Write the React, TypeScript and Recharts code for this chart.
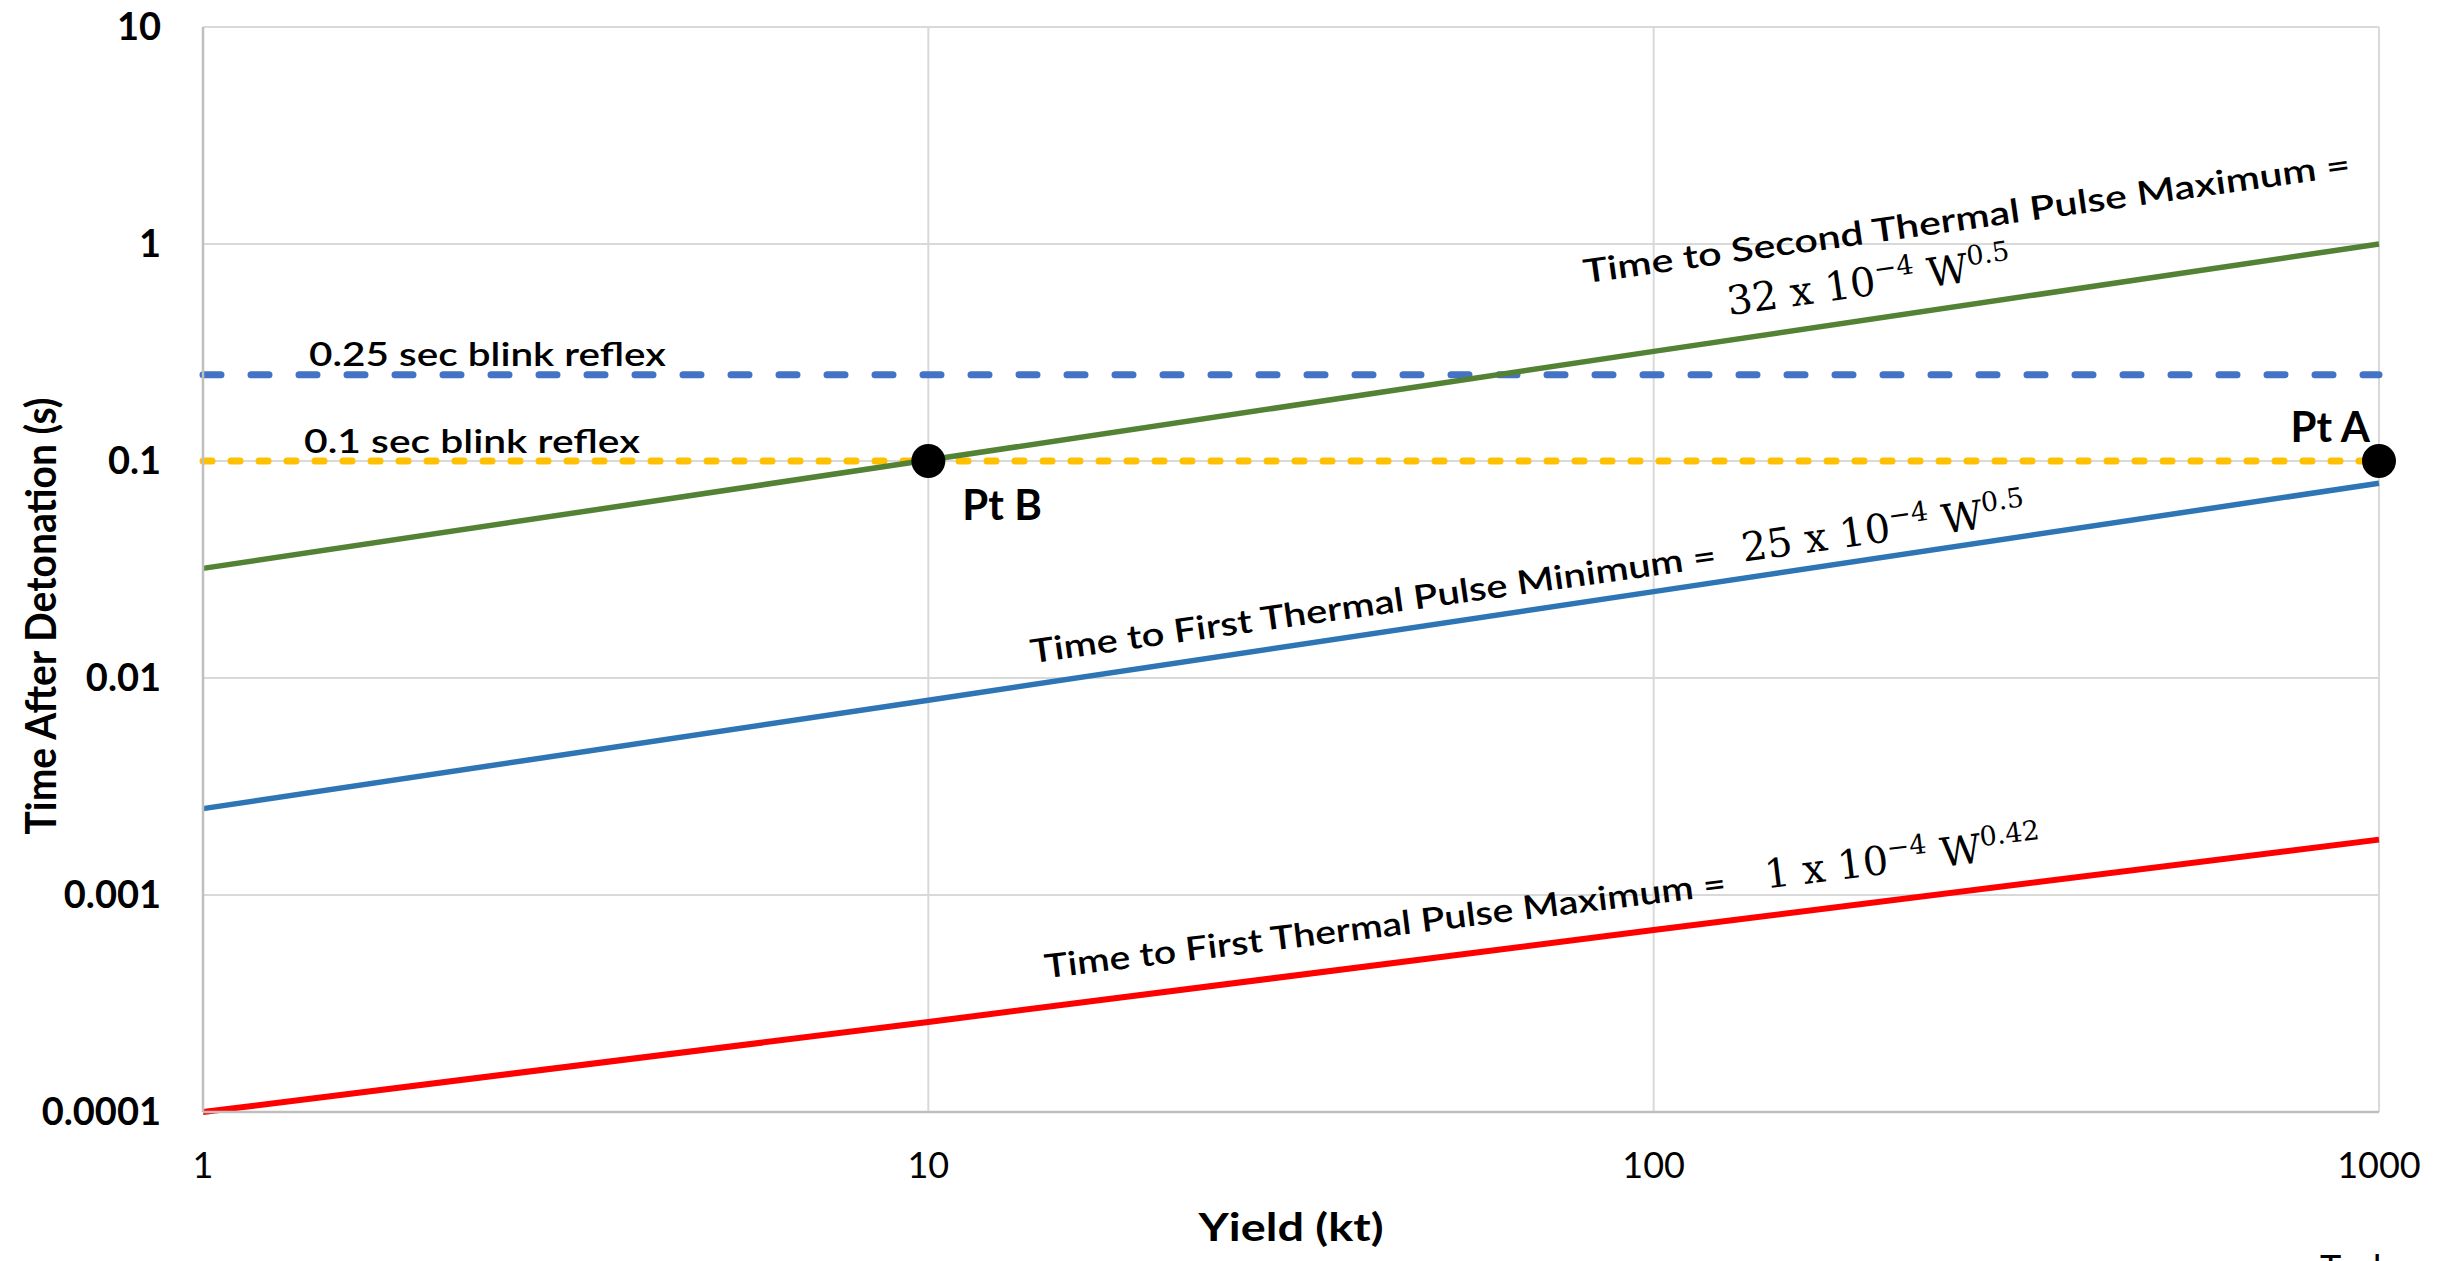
import React from 'react';
import {
  ComposedChart,
  Line,
  Scatter,
  XAxis,
  YAxis,
  CartesianGrid,
  ReferenceLine,
  ReferenceDot
} from 'recharts';

// yield (kt) and times (s)
const yields = [1, 10, 100, 1000];
const secondPulseMax = [0.032, 0.101, 0.32, 1.0];
const firstPulseMin = [0.0025, 0.0079, 0.025, 0.079];
const firstPulseMax = [0.0001, 0.00026, 0.00069, 0.0018];

const xTicks = [1, 10, 100, 1000];
const yTicks = [0.0001, 0.001, 0.01, 0.1, 1, 10];

const blinkTimes = [0.25, 0.1];
const blinkLabels = ['0.25 sec blink reflex', '0.1 sec blink reflex'];

const pointNames = ['Pt B', 'Pt A'];
const pointYields = [10, 1000];
const pointTimes = [0.1, 0.1];

const curveLabels = [
  'Time to Second Thermal Pulse Maximum =',
  'Time to First Thermal Pulse Minimum =',
  'Time to First Thermal Pulse Maximum ='
];
const eqCoef = ['32', '25', '1'];
const eqPower = ['0.5', '0.5', '0.42'];

const rows = yields.map((w, i) => ({
  w,
  secondMax: secondPulseMax[i],
  firstMin: firstPulseMin[i],
  firstMax: firstPulseMax[i]
}));

const points = pointNames.map((name, i) => ({ name, w: pointYields[i], t: pointTimes[i] }));

// where the curve labels sit (data units) and how they're drawn
const labelSpots = [
  { x: 80.4, y: 0.659, len: 774, angle: -8, eqX: 127, eqY: 0.469 },
  { x: 13.9, y: 0.0117, len: 692, angle: -8, eqX: 133, eqY: 0.0343 },
  { x: 14.53, y: 0.000413, len: 686, angle: -7, eqX: 143, eqY: 0.00107 }
];
const blinkStyle = [
  { color: '#4472C4', dash: '18 30', dx: 106, dy: -9, len: 357 },
  { color: '#FFC000', dash: '9 19', dx: 101, dy: -8, len: 336 }
];
const pointStyle: Record<string, { dx: number; dy: number; anchor: 'start' | 'end' }> = {
  'Pt B': { dx: 34, dy: 59, anchor: 'start' },
  'Pt A': { dx: -9, dy: -19, anchor: 'end' }
};

const SANS = 'Lato, "Open Sans", sans-serif';
const SERIF = '"DejaVu Serif", "Liberation Serif", serif';

const PointShape = (p: any) => {
  const s = pointStyle[p.payload.name];
  return (
    <g>
      <circle cx={p.cx} cy={p.cy} r={17} fill="#000" />
      <text x={p.cx + s.dx} y={p.cy + s.dy} textAnchor={s.anchor} fontFamily={SANS} fontWeight={700} fontSize={42} fill="#000">
        {p.payload.name}
      </text>
    </g>
  );
};

const App = () => {
  return (
    <div style={{ position: 'absolute', left: 0, top: 0, width: 2446, height: 1261, background: '#fff', fontFamily: SANS }}>
      <ComposedChart width={2446} height={1261} data={rows} margin={{ top: 27, right: 67, bottom: 0, left: 0 }}>
        <CartesianGrid stroke="#D9D9D9" strokeWidth={2} />
        <XAxis
          dataKey="w"
          type="number"
          scale="log"
          domain={[1, 1000]}
          ticks={xTicks}
          height={149}
          tickLine={false}
          tickSize={0}
          tickMargin={40}
          axisLine={{ stroke: '#BFBFBF', strokeWidth: 2.5 }}
          tick={{ fill: '#000', fontSize: 36, fontFamily: SANS }}
          label={{
            content: () => (
              <g>
                <text x={1291} y={1241} textAnchor="middle" fontFamily={SANS} fontWeight={700} fontSize={39} textLength={185} lengthAdjust="spacingAndGlyphs" fill="#000">
                  Yield (kt)
                </text>
                <text x={2320} y={1281} fontFamily={SANS} fontSize={36} fill="#000">Tech</text>
              </g>
            )
          }}
        />
        <YAxis
          type="number"
          scale="log"
          domain={[0.0001, 10]}
          ticks={yTicks}
          width={203}
          tickLine={false}
          tickSize={0}
          tickMargin={42}
          axisLine={{ stroke: '#BFBFBF', strokeWidth: 2.5 }}
          tick={{ fill: '#000', fontSize: 38, fontWeight: 700, fontFamily: SANS }}
          label={{
            content: () => (
              <text x={56} y={616} transform="rotate(-90 56 616)" textAnchor="middle" fontFamily={SANS} fontWeight={700} fontSize={42} textLength={437} lengthAdjust="spacingAndGlyphs" fill="#000">
                Time After Detonation (s)
              </text>
            )
          }}
        />

        {blinkTimes.map((t, i) => (
          <ReferenceLine
            key={blinkLabels[i]}
            y={t}
            stroke={blinkStyle[i].color}
            strokeWidth={7}
            strokeDasharray={blinkStyle[i].dash}
            strokeLinecap="round"
            label={{
              content: (lp: any) => (
                <text x={lp.viewBox.x + blinkStyle[i].dx} y={lp.viewBox.y + blinkStyle[i].dy} fontFamily={SANS} fontWeight={600} fontSize={32} textLength={blinkStyle[i].len} lengthAdjust="spacingAndGlyphs" fill="#000">
                  {blinkLabels[i]}
                </text>
              )
            }}
          />
        ))}

        <Line dataKey="secondMax" stroke="#548235" strokeWidth={5.5} dot={false} isAnimationActive={false} />
        <Line dataKey="firstMin" stroke="#2E75B6" strokeWidth={5.5} dot={false} isAnimationActive={false} />
        <Line dataKey="firstMax" stroke="#FF0000" strokeWidth={6} dot={false} isAnimationActive={false} />

        {labelSpots.map((s, i) => (
          <ReferenceDot
            key={'t' + i}
            x={s.x}
            y={s.y}
            r={1}
            shape={(p: any) => (
              <text x={p.cx} y={p.cy} transform={`rotate(${s.angle} ${p.cx} ${p.cy})`} fontFamily={SANS} fontWeight={600} fontSize={33} textLength={s.len} lengthAdjust="spacingAndGlyphs" fill="#000">
                {curveLabels[i]}
              </text>
            )}
          />
        ))}
        {labelSpots.map((s, i) => (
          <ReferenceDot
            key={'e' + i}
            x={s.eqX}
            y={s.eqY}
            r={1}
            shape={(p: any) => (
              <text x={p.cx} y={p.cy} transform={`rotate(${s.angle} ${p.cx} ${p.cy})`} fontFamily={SERIF} fontSize={40} fill="#000">
                {eqCoef[i]} x 10
                <tspan dy={-16} fontSize={27}>−4</tspan>
                <tspan dy={16} fontSize={40}> W</tspan>
                <tspan dy={-16} fontSize={27}>{eqPower[i]}</tspan>
              </text>
            )}
          />
        ))}

        <Scatter data={points} dataKey="t" shape={PointShape} isAnimationActive={false} />
      </ComposedChart>
    </div>
  );
};

export default App;
